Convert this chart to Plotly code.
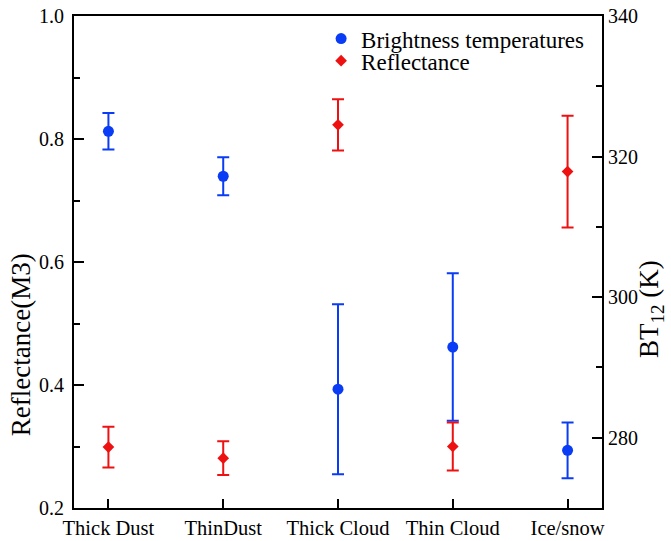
import plotly.graph_objects as go

categories = ["Thick Dust", "ThinDust", "Thick Cloud", "Thin Cloud", "Ice/snow"]
bt_values = [323.6, 317.2, 286.9, 292.9, 278.2]
bt_errors = [2.6, 2.7, 12.1, 10.5, 3.95]
refl_values = [0.299, 0.281, 0.823, 0.300, 0.747]
refl_errors = [0.033, 0.0275, 0.0415, 0.039, 0.091]

BLUE = "#0a3cf5"
RED = "#ee1111"
FONT = "Liberation Serif"

fig = go.Figure()
fig.add_trace(go.Scatter(
    x=categories, y=bt_values, mode="markers", name="Brightness temperatures",
    marker=dict(symbol="circle", size=11, color=BLUE),
    error_y=dict(type="data", array=bt_errors, color=BLUE, thickness=2, width=6),
    yaxis="y", legend="legend",
))
fig.add_trace(go.Scatter(
    x=categories, y=refl_values, mode="markers", name="Reflectance",
    marker=dict(symbol="diamond", size=9, color=RED),
    error_y=dict(type="data", array=refl_errors, color=RED, thickness=2, width=6),
    yaxis="y2", legend="legend2",
))

axis_common = dict(showline=True, linecolor="black", linewidth=2, showgrid=False,
                   zeroline=False, ticks="inside", tickcolor="black", tickwidth=2,
                   automargin=False)

legend_common = dict(x=0.468, xanchor="left", yanchor="middle",
                     bgcolor="rgba(0,0,0,0)",
                     font=dict(family=FONT, size=23, color="black"), itemwidth=30)

fig.update_layout(
    width=671, height=541,
    margin=dict(l=74, r=69, t=16, b=33, autoexpand=False),
    plot_bgcolor="white", paper_bgcolor="white",
    font=dict(family=FONT, color="black"),
    showlegend=True,
    legend=dict(y=0.954, **legend_common),
    legend2=dict(y=0.909, **legend_common),
    xaxis=dict(type="category", range=[-0.3, 4.3], mirror=True, ticklen=9,
               ticklabelstandoff=0,
               tickfont=dict(family=FONT, size=20.5, color="black"), **axis_common),
    yaxis=dict(side="right", range=[270, 340], tickvals=[280, 300, 320, 340],
               ticklen=10, minor=dict(ticks="inside", tickvals=[290, 310, 330],
                                      ticklen=6, tickwidth=2, tickcolor="black"),
               tickfont=dict(family=FONT, size=20, color="black"), **axis_common),
    yaxis2=dict(side="left", overlaying="y", range=[0.2, 1.0],
                tickvals=[0.2, 0.4, 0.6, 0.8, 1.0], ticktext=["0.2", "0.4", "0.6", "0.8", "1.0"],
                ticklen=10, minor=dict(ticks="inside", tickvals=[0.3, 0.5, 0.7, 0.9],
                                       ticklen=6, tickwidth=2, tickcolor="black"),
                ticklabelstandoff=4,
                tickfont=dict(family=FONT, size=20, color="black"), **axis_common),
    annotations=[
        dict(text="Reflectance(M3)", xref="paper", yref="paper",
             x=-0.1, y=(508 - 345) / 492, xanchor="center", yanchor="middle",
             textangle=-90, showarrow=False, font=dict(family=FONT, size=27, color="black")),
        dict(text="BT<sub>12</sub> (K)", xref="paper", yref="paper",
             x=1.0 + (651 - 602) / 528, y=(508 - 309) / 492, xanchor="center", yanchor="middle",
             textangle=-90, showarrow=False, font=dict(family=FONT, size=27, color="black")),
    ],
)

fig.write_html("out.html")
